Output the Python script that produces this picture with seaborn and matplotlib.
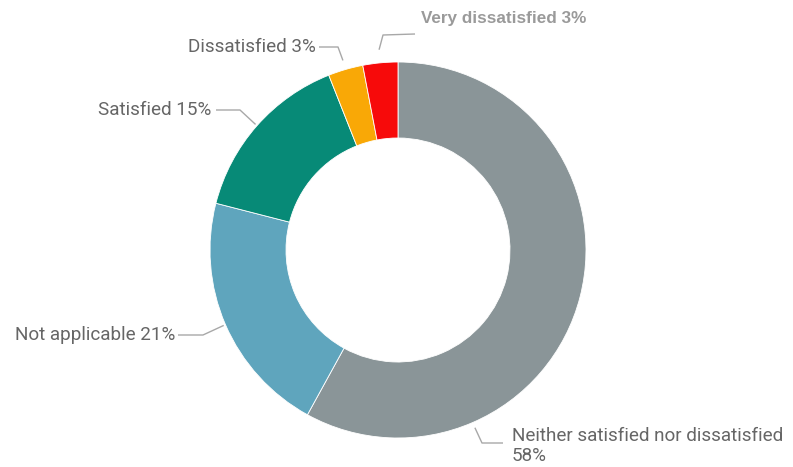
import numpy as np
import matplotlib
matplotlib.use("Agg")
import matplotlib.pyplot as plt
import seaborn as sns

# ---- data ----
categories = ["Neither satisfied nor dissatisfied", "Not applicable", "Satisfied",
              "Dissatisfied", "Very dissatisfied"]
percents = [58, 21, 15, 3, 3]
label_texts = ["Neither satisfied nor dissatisfied\n58%", "Not applicable 21%",
               "Satisfied 15%", "Dissatisfied 3%", "Very dissatisfied 3%"]
colors = ["#8A9598", "#5FA5BD", "#078A77", "#F9A806", "#F70A0A"]

sns.set_theme(style="white")
plt.rcParams["font.family"] = ["Roboto", "DejaVu Sans"]

W, H = 793, 467
fig = plt.figure(figsize=(W / 100, H / 100), dpi=100)
ax = fig.add_axes([0, 0, 1, 1])
cx, cy, R, ring = 398, H - 250, 188, 76

wedges, _ = ax.pie(percents, colors=colors, startangle=90, counterclock=False,
                   center=(cx, cy), radius=R,
                   wedgeprops=dict(width=ring, edgecolor="white", linewidth=0.6))
ax.set_xlim(0, W)
ax.set_ylim(0, H)
ax.set_aspect("equal")
ax.axis("off")

# layout for labels (image pixel coords, y from top): start position along wedge,
# elbow, line end, text pos, align
layout = [
    dict(frac=0.25, start_r=1.03, elbow=(482, 443), end=(503, 443), text=(512, 446), ha="left"),
    dict(frac=0.5, start_r=1.01, elbow=(203, 335), end=(178, 335), text=(175, 335), ha="right"),
    dict(frac=0.5, start_r=1.01, elbow=(240, 110), end=(216, 110), text=(211, 110), ha="right"),
    dict(frac=0.5, start_r=1.05, elbow=(338, 47), end=(319, 47), text=(316, 47), ha="right"),
    dict(frac=0.5, start_r=1.07, elbow=(383, 35), end=(415, 34), text=(421, 19), ha="left"),
]

line_col = "#A8A8A8"
text_col = "#666666"
for i, (w, lay) in enumerate(zip(wedges, layout)):
    ang = np.deg2rad(w.theta1 + lay["frac"] * (w.theta2 - w.theta1))
    sx = cx + R * lay["start_r"] * np.cos(ang)
    sy = cy + R * lay["start_r"] * np.sin(ang)
    ex, ey = lay["elbow"]
    fx, fy = lay["end"]
    ax.plot([sx, ex, fx], [sy, H - ey, H - fy], color=line_col, lw=1.0,
            solid_capstyle="butt", clip_on=False)
    tx, ty = lay["text"]
    if i == 4:
        ax.text(tx, H - ty, label_texts[i], ha=lay["ha"], va="center",
                fontsize=12.3, color="#9A9A9A", fontweight="bold",
                family=["Liberation Sans", "DejaVu Sans"])
    else:
        ax.text(tx, H - ty, label_texts[i], ha=lay["ha"], va="center",
                fontsize=13.6, color=text_col, linespacing=1.15)

fig.savefig("out.png", dpi=100)
